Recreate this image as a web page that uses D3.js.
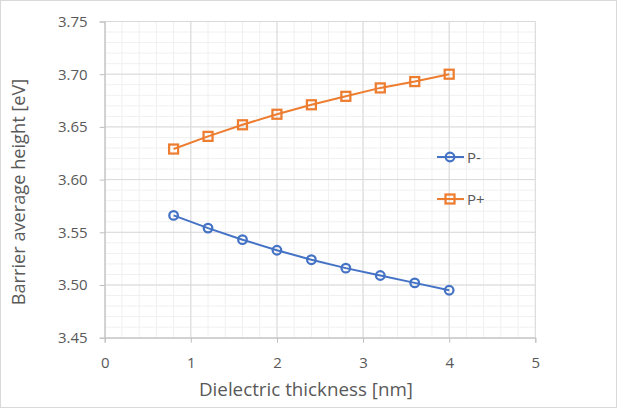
<!DOCTYPE html>
<html lang="en">
<head>
  <meta charset="UTF-8">
  <title>Barrier average height</title>
  <script src="https://cdn.jsdelivr.net/npm/d3@7"></script>
  <style>
    body { margin: 0; background: #fff; }
    svg { display: block; font-family: "Open Sans", "Noto Sans", sans-serif; }
  </style>
</head>
<body>
  <svg class="svg"></svg>
  <script>
    // data
    const thickness = [0.8, 1.2, 1.6, 2.0, 2.4, 2.8, 3.2, 3.6, 4.0];
    const pMinus = [3.566, 3.554, 3.543, 3.533, 3.524, 3.516, 3.509, 3.502, 3.495];
    const pPlus = [3.629, 3.641, 3.652, 3.662, 3.671, 3.679, 3.687, 3.693, 3.700];
    const xTicks = [0, 1, 2, 3, 4, 5];
    const yTicks = [3.45, 3.50, 3.55, 3.60, 3.65, 3.70, 3.75];
    const seriesNames = ['P-', 'P+'];

    const w = 618;
    const h = 409;
    const padLeft = 104.7, padRight = 535.3, padTop = 21.5, padBottom = 337.7;

    const blue = '#4472C4';
    const orange = '#ED7D31';

    const xScale = d3.scaleLinear().domain([0, 5]).range([padLeft, padRight]);
    const yScale = d3.scaleLinear().domain([3.45, 3.75]).range([padBottom, padTop]);

    const svg = d3.select('.svg')
      .attr('width', w)
      .attr('height', h);

    // chart border
    svg.append('rect')
      .attr('x', 0.5).attr('y', 0.5)
      .attr('width', w - 2).attr('height', h - 2)
      .attr('fill', '#fff')
      .attr('stroke', '#d9d9d9');

    // minor grid
    const xMinor = d3.range(0, 26).map(i => i * 0.2);
    const yMinor = d3.range(0, 31).map(i => 3.45 + i * 0.01);
    svg.append('g').selectAll('line')
      .data(xMinor).enter().append('line')
      .attr('x1', d => xScale(d)).attr('x2', d => xScale(d))
      .attr('y1', padTop).attr('y2', padBottom)
      .attr('stroke', '#f0f0f0').attr('stroke-width', 1);
    svg.append('g').selectAll('line')
      .data(yMinor).enter().append('line')
      .attr('x1', padLeft).attr('x2', padRight)
      .attr('y1', d => yScale(d)).attr('y2', d => yScale(d))
      .attr('stroke', '#f0f0f0').attr('stroke-width', 1);

    // major grid
    svg.append('g').selectAll('line')
      .data(xTicks).enter().append('line')
      .attr('x1', d => xScale(d)).attr('x2', d => xScale(d))
      .attr('y1', padTop).attr('y2', padBottom)
      .attr('stroke', '#d9d9d9').attr('stroke-width', 1);
    svg.append('g').selectAll('line')
      .data(yTicks).enter().append('line')
      .attr('x1', padLeft).attr('x2', padRight)
      .attr('y1', d => yScale(d)).attr('y2', d => yScale(d))
      .attr('stroke', '#d9d9d9').attr('stroke-width', 1);

    // axes
    const xAxis = d3.axisBottom(xScale).tickValues(xTicks).tickSize(5).tickPadding(15)
      .tickFormat(d3.format('d'));
    const yAxis = d3.axisLeft(yScale).tickValues(yTicks).tickSize(5).tickPadding(12)
      .tickFormat(d3.format('.2f'));

    const gx = svg.append('g')
      .attr('transform', 'translate(0,' + padBottom + ')')
      .call(xAxis);
    const gy = svg.append('g')
      .attr('transform', 'translate(' + padLeft + ',0)')
      .call(yAxis);

    [gx, gy].forEach(g => {
      g.select('.domain').attr('stroke', '#bfbfbf');
      g.selectAll('.tick line').attr('stroke', '#bfbfbf');
      g.selectAll('.tick text')
        .attr('fill', '#595959')
        .style('font-size', '15px')
        .style('font-family', '"Open Sans", "Noto Sans", sans-serif');
    });

    // axis titles
    svg.append('text')
      .attr('x', 306)
      .attr('y', 396)
      .attr('text-anchor', 'middle')
      .attr('fill', '#595959')
      .style('font-size', '18.8px')
      .text('Dielectric thickness [nm]');

    svg.append('text')
      .attr('transform', 'translate(25,192) rotate(-90)')
      .attr('text-anchor', 'middle')
      .attr('fill', '#595959')
      .style('font-size', '18.2px')
      .text('Barrier average height [eV]');

    // series
    const line = d3.line()
      .x(d => xScale(d[0]))
      .y(d => yScale(d[1]));

    const minusPts = thickness.map((t, i) => [t, pMinus[i]]);
    const plusPts = thickness.map((t, i) => [t, pPlus[i]]);

    svg.append('path').datum(minusPts)
      .attr('d', line).attr('fill', 'none')
      .attr('stroke', blue).attr('stroke-width', 2);
    svg.append('g').selectAll('circle')
      .data(minusPts).enter().append('circle')
      .attr('cx', d => xScale(d[0]))
      .attr('cy', d => yScale(d[1]))
      .attr('r', 4.3)
      .attr('fill', 'none')
      .attr('stroke', blue).attr('stroke-width', 2.25);

    svg.append('path').datum(plusPts)
      .attr('d', line).attr('fill', 'none')
      .attr('stroke', orange).attr('stroke-width', 2);
    svg.append('g').selectAll('rect')
      .data(plusPts).enter().append('rect')
      .attr('x', d => xScale(d[0]) - 4.5)
      .attr('y', d => yScale(d[1]) - 4.5)
      .attr('width', 9).attr('height', 9)
      .attr('fill', 'none')
      .attr('stroke', orange).attr('stroke-width', 2.25);

    // legend
    const legend = svg.append('g');
    const legendY = [157, 199];
    seriesNames.forEach((name, i) => {
      const col = i === 0 ? blue : orange;
      const g = legend.append('g').attr('transform', 'translate(450,' + legendY[i] + ')');
      g.append('line').attr('x1', -13).attr('x2', 14)
        .attr('stroke', col).attr('stroke-width', 2);
      if (i === 0) {
        g.append('circle').attr('r', 4.3).attr('fill', 'none')
          .attr('stroke', col).attr('stroke-width', 2.25);
      } else {
        g.append('rect').attr('x', -4.5).attr('y', -4.5).attr('width', 9).attr('height', 9)
          .attr('fill', 'none').attr('stroke', col).attr('stroke-width', 2.25);
      }
      g.append('text').attr('x', 17).attr('y', 5.5)
        .attr('fill', '#595959')
        .style('font-size', '15px')
        .text(name);
    });
  </script>
</body>
</html>
